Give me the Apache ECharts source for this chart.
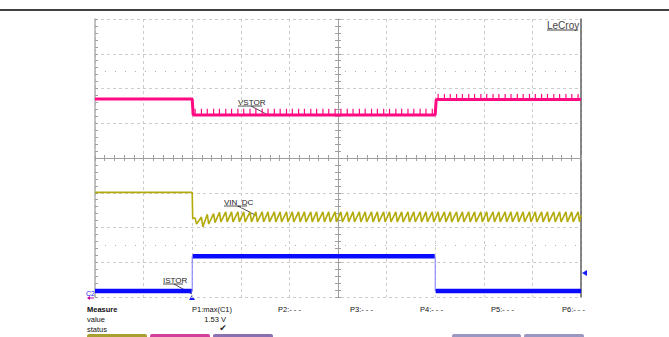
<!DOCTYPE html>
<html>
<head>
<meta charset="utf-8">
<script src="https://cdn.jsdelivr.net/npm/echarts@6/dist/echarts.min.js"></script>
<style>
html,body{margin:0;padding:0;background:#fff;}
#c{width:669px;height:337px;}
</style>
</head>
<body>
<div id="c"></div>
<script>
// ---- data (x in horizontal divisions 0..10, y in vertical divisions 0..8 from bottom) ----
// times of the switching pulses (spikes on VSTOR, teeth on VIN_DC)
const pulseT = [2.06,2.19,2.31,2.44,2.56,2.69,2.81,2.94,3.06,3.19,3.31,3.44,3.56,3.69,3.81,3.94,
  4.06,4.19,4.31,4.44,4.56,4.69,4.81,4.94,5.06,5.19,5.31,5.44,5.56,5.69,5.81,5.94,
  6.06,6.19,6.31,6.44,6.56,6.69,6.81,6.94,7.06,7.19,7.31,7.44,7.56,7.69,7.81,7.94,
  8.06,8.19,8.31,8.44,8.56,8.69,8.81,8.94,9.06,9.19,9.31,9.44,9.56,9.69,9.81,9.94];
// VSTOR segments
const vstorEdgeT = [0, 2.0, 7.0, 10];
const vstorBase  = [5.70, 5.24, 5.68];
const vstorSpike = [null, 5.42, 5.84];
// VIN_DC
const vinBefore = 3.01;
const vinPeak = 2.45;
const vinTrough = 2.16;
const vinEarlyPeak = [2.27, 2.30, 2.38, 2.40, 2.44];
const vinEarlyTrough = [2.10, 2.02, 2.10, 2.14, 2.16];
// ISTOR
const istorEdgeT = [0, 2.0, 7.0, 10];
const istorLevel = [0.17, 1.17, 0.17];
// cursor dotted rows
const cursorRows = [6.5, 1.5];
// measurement table
const measureCols = ['P1:max(C1)', 'P2:- - -', 'P3:- - -', 'P4:- - -', 'P5:- - -', 'P6:- - -'];
const measureValue = '1.53 V';

// ---- build series points ----
function buildVstorBase(){
  const pts = [];
  for (let s = 0; s < vstorBase.length; s++){
    pts.push([vstorEdgeT[s] + (s ? 0.02 : 0), vstorBase[s]]);
    pts.push([vstorEdgeT[s+1], vstorBase[s]]);
  }
  return pts;
}
function buildVstorSpikes(){
  const pts = [];
  for (let s = 0; s < vstorBase.length; s++){
    if (vstorSpike[s] === null) continue;
    const t0 = vstorEdgeT[s], t1 = vstorEdgeT[s+1];
    pulseT.filter(t => t > t0 && t < t1).forEach(t => {
      pts.push([t, vstorBase[s]]);
      pts.push([t, vstorSpike[s]]);
      pts.push([t, '-']);
    });
  }
  return pts;
}
function buildVin(){
  const pts = [[0, vinBefore], [2.0, vinBefore], [2.01, vinEarlyPeak[0]]];
  pulseT.forEach((t, i) => {
    const pk = i < vinEarlyPeak.length ? vinEarlyPeak[i] : vinPeak;
    const tr = i < vinEarlyTrough.length ? vinEarlyTrough[i] : vinTrough;
    pts.push([t, pk]);
    pts.push([t + 0.03, tr]);
  });
  pts.push([10, vinPeak - 0.1]);
  return pts;
}
function buildIstorLevels(){
  const pts = [];
  for (let s = 0; s < istorLevel.length; s++){
    pts.push([istorEdgeT[s] + (s ? 0.01 : 0), istorLevel[s]]);
    pts.push([istorEdgeT[s+1] - (s < istorLevel.length - 1 ? 0.01 : 0), istorLevel[s]]);
    pts.push([istorEdgeT[s+1], '-']);
  }
  return pts;
}
function buildIstorEdges(){
  const pts = [];
  for (let s = 1; s < istorLevel.length; s++){
    pts.push([istorEdgeT[s], istorLevel[s-1]]);
    pts.push([istorEdgeT[s], istorLevel[s]]);
    pts.push([istorEdgeT[s], '-']);
  }
  return pts;
}

const chart = echarts.init(document.getElementById('c'), null, {renderer: 'svg'});
const FONT = 'Liberation Sans, Arial, sans-serif';
const gridStyle = {show: true, lineStyle: {color: '#cccccc', type: [3, 3], width: 1}};
const hidden = {show: false};
const tickCol = {color: '#a0a0a0'};

const option = {
  animation: false,
  backgroundColor: '#fff',
  grid: {left: 95, top: 19, width: 486, height: 278, show: false},
  xAxis: [
    {type: 'value', min: 0, max: 10, interval: 1, splitLine: gridStyle,
     axisLine: hidden, axisTick: hidden, axisLabel: hidden},
    {type: 'value', min: -5, max: 5, interval: 1, splitLine: hidden, axisLabel: hidden,
     axisLine: {show: true, onZero: true, onZeroAxisIndex: 1, lineStyle: {color: '#a0a0a0', width: 1}},
     axisTick: {show: true, inside: true, length: 3, lineStyle: tickCol},
     minorTick: {show: true, splitNumber: 5, length: 3, lineStyle: tickCol}},
    {type: 'value', min: -5, max: 5, interval: 1, splitLine: hidden, axisLabel: hidden,
     axisLine: {show: false, onZero: true, onZeroAxisIndex: 1},
     axisTick: {show: true, inside: false, length: 3, lineStyle: tickCol},
     minorTick: {show: true, splitNumber: 5, length: 3, lineStyle: tickCol}}
  ],
  yAxis: [
    {type: 'value', min: 0, max: 8, interval: 1, splitLine: gridStyle, axisLabel: hidden,
     axisLine: {show: true, lineStyle: {color: '#b0b0b0', width: 1.5}},
     axisTick: {show: true, inside: true, length: 3, lineStyle: tickCol},
     minorTick: {show: true, splitNumber: 5, length: 3, lineStyle: tickCol}},
    {type: 'value', min: -4, max: 4, interval: 1, splitLine: hidden, axisLabel: hidden,
     axisLine: {show: true, onZero: true, onZeroAxisIndex: 1, lineStyle: {color: '#a0a0a0', width: 1}},
     axisTick: {show: true, inside: true, length: 3, lineStyle: tickCol},
     minorTick: {show: true, splitNumber: 5, length: 3, lineStyle: tickCol}},
    {type: 'value', min: -4, max: 4, interval: 1, splitLine: hidden, axisLabel: hidden,
     axisLine: {show: false, onZero: true, onZeroAxisIndex: 1},
     axisTick: {show: true, inside: false, length: 3, lineStyle: tickCol},
     minorTick: {show: true, splitNumber: 5, length: 3, lineStyle: tickCol}},
    {type: 'value', min: 0, max: 8, position: 'right', splitLine: hidden, axisLabel: hidden,
     axisTick: hidden, axisLine: {show: true, onZero: false, lineStyle: {color: '#606060', width: 1.5}}}
  ],
  series: [
    {name: 'cursors', type: 'line', data: [], silent: true,
     markLine: {symbol: 'none', silent: true, label: {show: false},
       lineStyle: {color: '#b0b0b0', type: [1, 9], width: 1},
       data: cursorRows.map(v => ({yAxis: v}))}},
    {name: 'VIN_DC', type: 'line', data: buildVin(), showSymbol: false, symbol: 'none',
     lineStyle: {color: '#b3ab0c', width: 1.6}},
    {name: 'VSTOR', type: 'line', data: buildVstorBase(), showSymbol: false, symbol: 'none',
     lineStyle: {color: '#ff0a82', width: 3}},
    {name: 'VSTOR spikes', type: 'line', data: buildVstorSpikes(), showSymbol: false, symbol: 'none',
     connectNulls: false, lineStyle: {color: '#ff0a82', width: 1.2}},
    {name: 'ISTOR edges', type: 'line', data: buildIstorEdges(), showSymbol: false, symbol: 'none',
     connectNulls: false, lineStyle: {color: '#7a7aff', width: 1}},
    {name: 'ISTOR', type: 'line', data: buildIstorLevels(), showSymbol: false, symbol: 'none',
     connectNulls: false, lineStyle: {color: '#0a0aff', width: 4.5}}
  ],
  graphic: [
    // top rule
    {type: 'line', shape: {x1: 0, y1: 10, x2: 669, y2: 10}, style: {stroke: '#000', lineWidth: 1.5}},
    // LeCroy
    {type: 'text', x: 547, y: 25, style: {text: 'LeCroy', font: '10px ' + FONT, fill: '#444', textVerticalAlign: 'middle'}},
    {type: 'line', shape: {x1: 547, y1: 30, x2: 578, y2: 30}, style: {stroke: '#444', lineWidth: 1}},
    // VSTOR annotation
    {type: 'text', x: 238, y: 102, style: {text: 'VSTOR', font: '8px ' + FONT, fill: '#222', textVerticalAlign: 'middle'}},
    {type: 'line', shape: {x1: 238, y1: 106, x2: 262, y2: 106}, style: {stroke: '#222', lineWidth: 0.8}},
    {type: 'line', shape: {x1: 251, y1: 106, x2: 270, y2: 116}, style: {stroke: '#222', lineWidth: 0.8}},
    // VIN_DC annotation
    {type: 'text', x: 224, y: 202, style: {text: 'VIN_DC', font: '8px ' + FONT, fill: '#222', textVerticalAlign: 'middle'}},
    {type: 'line', shape: {x1: 224, y1: 206, x2: 247, y2: 206}, style: {stroke: '#222', lineWidth: 0.8}},
    {type: 'line', shape: {x1: 238, y1: 206, x2: 257, y2: 216}, style: {stroke: '#222', lineWidth: 0.8}},
    // ISTOR annotation
    {type: 'text', x: 163, y: 280, style: {text: 'ISTOR', font: '8px ' + FONT, fill: '#222', textVerticalAlign: 'middle'}},
    {type: 'line', shape: {x1: 163, y1: 284, x2: 183, y2: 284}, style: {stroke: '#222', lineWidth: 0.8}},
    {type: 'line', shape: {x1: 174, y1: 284, x2: 192, y2: 294}, style: {stroke: '#222', lineWidth: 0.8}},
    // channel marker C2
    {type: 'text', x: 86, y: 293, style: {text: 'C2', font: '7px ' + FONT, fill: '#1a1aff', textVerticalAlign: 'middle'}},
    {type: 'line', shape: {x1: 88, y1: 298, x2: 94, y2: 298}, style: {stroke: '#c000a0', lineWidth: 1}},
    {type: 'polygon', shape: {points: [[87, 298], [90, 296], [90, 300]]}, style: {fill: '#c000a0'}},
    // trigger marker bottom
    {type: 'polygon', shape: {points: [[192, 295], [189, 300], [195, 300]]}, style: {fill: '#1a1aff'}},
    // right level marker
    {type: 'polygon', shape: {points: [[582, 273], [587, 270], [587, 276]]}, style: {fill: '#1a1aff'}},
    // measurement table
    {type: 'text', x: 87, y: 309, style: {text: 'Measure', font: 'bold 7.5px ' + FONT, fill: '#111', textVerticalAlign: 'middle'}},
    {type: 'text', x: 87, y: 319, style: {text: 'value', font: '7.5px ' + FONT, fill: '#111', textVerticalAlign: 'middle'}},
    {type: 'text', x: 87, y: 329, style: {text: 'status', font: '7.5px ' + FONT, fill: '#111', textVerticalAlign: 'middle'}},
    {type: 'text', x: 192, y: 309, style: {text: measureCols[0], font: '7.5px ' + FONT, fill: '#111', textVerticalAlign: 'middle'}},
    {type: 'text', x: 278, y: 309, style: {text: measureCols[1], font: '7.5px ' + FONT, fill: '#111', textVerticalAlign: 'middle'}},
    {type: 'text', x: 350, y: 309, style: {text: measureCols[2], font: '7.5px ' + FONT, fill: '#111', textVerticalAlign: 'middle'}},
    {type: 'text', x: 420, y: 309, style: {text: measureCols[3], font: '7.5px ' + FONT, fill: '#111', textVerticalAlign: 'middle'}},
    {type: 'text', x: 491, y: 309, style: {text: measureCols[4], font: '7.5px ' + FONT, fill: '#111', textVerticalAlign: 'middle'}},
    {type: 'text', x: 562, y: 309, style: {text: measureCols[5], font: '7.5px ' + FONT, fill: '#111', textVerticalAlign: 'middle'}},
    {type: 'text', x: 226, y: 319, style: {text: measureValue, font: '7.5px ' + FONT, fill: '#111', textAlign: 'right', textVerticalAlign: 'middle'}},
    {type: 'text', x: 223, y: 328, style: {text: '✔', font: '9px DejaVu Sans', fill: '#222', textAlign: 'center', textVerticalAlign: 'middle'}},
    // bottom tabs
    {type: 'rect', shape: {x: 87, y: 334, width: 60, height: 4, r: [2, 2, 0, 0]}, style: {fill: '#a8a030'}},
    {type: 'rect', shape: {x: 150, y: 334, width: 60, height: 4, r: [2, 2, 0, 0]}, style: {fill: '#d0409a'}},
    {type: 'rect', shape: {x: 213, y: 334, width: 60, height: 4, r: [2, 2, 0, 0]}, style: {fill: '#8a70b0'}},
    {type: 'rect', shape: {x: 452, y: 334, width: 69, height: 4, r: [2, 2, 0, 0]}, style: {fill: '#9a98c0'}},
    {type: 'rect', shape: {x: 524, y: 334, width: 60, height: 4, r: [2, 2, 0, 0]}, style: {fill: '#9a98c0'}}
  ]
};
chart.setOption(option);
</script>
</body>
</html>
